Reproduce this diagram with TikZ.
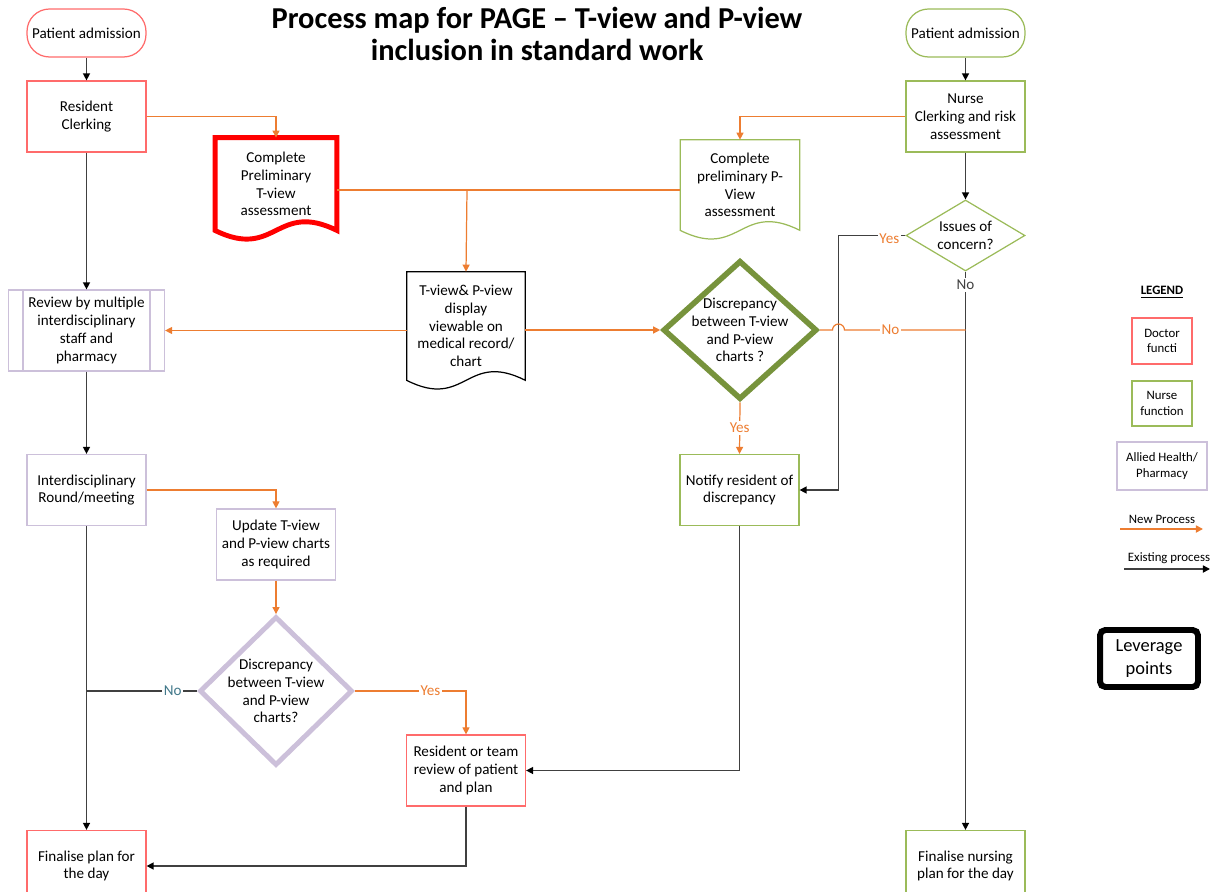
\documentclass[tikz,border=0pt]{standalone}
\usepackage{fontspec}
\setmainfont{Carlito}
\usepackage{xcolor}
\definecolor{doctorColor}{HTML}{FF6B6B}
\definecolor{leverRed}{HTML}{FF0000}
\definecolor{nurseColor}{HTML}{9BBB59}
\definecolor{nurseDark}{HTML}{77933C}
\definecolor{alliedColor}{HTML}{CCC0DA}
\definecolor{newColor}{HTML}{ED7D31}
\definecolor{oldColor}{HTML}{404040}
\definecolor{noColor}{HTML}{41788A}
\usepackage{tikz}
\usetikzlibrary{shapes.geometric, arrows.meta, positioning, calc}

% wavy paper outline round a node
\newcommand{\paperline}[2]{%
  \draw[#2] (#1.south west) -- (#1.north west) -- (#1.north east) -- (#1.south east)
    .. controls ($(#1.south)+(0,0.6cm)$) and ($(#1.south)+(0,-0.6cm)$) .. (#1.south west) -- cycle;}

\tikzset{
  box/.style={draw, line width=0.7pt, fill=white, align=center, minimum width=2.38cm, minimum height=1.42cm, inner sep=2pt},
  doctor/.style={box, draw=doctorColor},
  nurse/.style={box, draw=nurseColor},
  allied/.style={box, draw=alliedColor},
  startbox/.style={rounded corners=0.45cm, minimum height=0.96cm},
  paper/.style={align=center, minimum width=2.38cm, minimum height=1.78cm, inner sep=2pt},
  decision/.style={diamond, draw, inner sep=0pt},
  tip/.style={-{Triangle[length=4pt, width=4pt, color=#1]}},
  newflow/.style={newColor, line width=0.7pt, tip=newColor},
  oldflow/.style={oldColor, line width=0.8pt, tip=black},
  answer/.style={fill=white, inner sep=1pt},
  legendtext/.style={font=\fontsize{7.3}{9}\selectfont}
}

\begin{document}
\begin{tikzpicture}[x=0.02cm, y=-0.02cm, font=\fontsize{8.6}{10.1}\selectfont]
    \useasboundingbox (0,0) rectangle (1217,892);

    % Title
    \node[font=\fontsize{17.3}{18.4}\selectfont\bfseries, align=center] (title) at (537,34)
        {Process map for PAGE – T-view and P-view\\inclusion in standard work};

    % Doctor column
    \node[doctor, startbox] (admitDoc) at (86.5,33) {Patient admission};
    \node[doctor] (clerkRes) at (86.5,116.5) {Resident\\Clerking};
    \node[allied, minimum width=3.12cm, minimum height=1.62cm] (review) at (86.5,330.5)
        {Review by multiple\\interdisciplinary\\staff and\\pharmacy};
    \draw[alliedColor, line width=0.7pt] ($(review.north west)+(15,0)$) -- ($(review.south west)+(15,0)$);
    \draw[alliedColor, line width=0.7pt] ($(review.north east)+(-15,0)$) -- ($(review.south east)+(-15,0)$);
    \node[allied] (round) at (86.5,490) {Interdisciplinary\\Round/meeting};
    \node[doctor] (planDay) at (86.5,866) {Finalise plan for\\the day};

    % Charts
    \node[paper, minimum width=2.34cm, minimum height=1.76cm, outer sep=1.4pt] (tDoc) at (276,184)
        {Complete\\Preliminary\\T-view\\assessment};
    \paperline{tDoc}{leverRed, line width=2.8pt}
    \node[paper, minimum height=1.8cm] (pDoc) at (740,185)
        {Complete\\preliminary P-\\View\\assessment};
    \paperline{pDoc}{nurseColor, line width=0.7pt}
    \node[paper, minimum width=2.36cm, minimum height=2.16cm] (display) at (466,326)
        {T-view\& P-view\\display\\viewable on\\medical record/\\chart};
    \paperline{display}{black, line width=0.7pt}

    % Middle
    \node[allied] (update) at (276,544.5) {Update T-view\\and P-view charts\\as required};
    \node[decision, draw=alliedColor, line width=2.8pt, minimum width=3.06cm, minimum height=2.98cm,
        label={[align=center]center:Discrepancy\\between T-view\\and P-view\\charts?}] (chartCheck) at (276,691) {};
    \node[doctor] (teamReview) at (466,770.5) {Resident or team\\review of patient\\and plan};
    \node[decision, draw=nurseDark, line width=3.2pt, minimum width=3.08cm, minimum height=2.78cm,
        label={[align=center]center:Discrepancy\\between T-view\\and P-view\\charts ?}] (gapCheck) at (740,330) {};
    \node[nurse] (notify) at (739.5,490) {Notify resident of\\discrepancy};

    % Nurse column
    \node[nurse, startbox] (admitNurse) at (965.5,33) {Patient admission};
    \node[nurse] (clerkNurse) at (965.5,116.5) {Nurse\\Clerking and risk\\assessment};
    \node[decision, draw=nurseColor, line width=0.7pt, minimum width=2.38cm, minimum height=1.42cm,
        label={[align=center]center:Issues of\\concern?}] (issues) at (965.5,235.5) {};
    \node[nurse] (nursePlan) at (965.5,866) {Finalise nursing\\plan for the day};

    % Bends
    \coordinate (tpJoin) at (467,190);
    \coordinate (yesBend) at (838.5,235.5);
    \coordinate (hopStart) at (832.5,330);
    \coordinate (noJoin) at (965.5,330);

    % Existing process
    \draw[oldflow] (admitDoc) -- (clerkRes);
    \draw[oldflow] (clerkRes) -- (review);
    \draw[oldflow] (review) -- (round);
    \draw[oldflow] (round) -- (planDay);
    \draw[oldColor, line width=0.8pt] (chartCheck.west) -- node[answer, text=noColor, pos=0.22] {No} (round.south |- chartCheck.west);
    \draw[oldflow] (teamReview.south) |- (planDay.east);
    \draw[oldflow] (notify.south) |- (teamReview.east);
    \draw[oldflow] (admitNurse) -- (clerkNurse);
    \draw[oldflow] (clerkNurse) -- (issues);
    \draw[oldflow] (issues.south) -- node[answer, pos=0.024] {No} (nursePlan.north);
    \draw[oldflow] (issues.west) -- node[answer, text=newColor, pos=0.24, yshift=-2pt] {Yes} (yesBend) |- (notify.east);

    % New process
    \draw[newflow] (clerkRes.east) -| (tDoc.north);
    \draw[newflow] (clerkNurse.west) -| (pDoc.north);
    \draw[newColor, line width=0.7pt] (tDoc.east |- tpJoin) -- (pDoc.west |- tpJoin);
    \draw[newflow] (tpJoin) -- (display.north);
    \draw[newflow] (display.west |- review.east) -- (review.east);
    \draw[newflow] (display.east |- gapCheck.west) -- (gapCheck.west);
    \draw[newflow] (gapCheck.south) -- node[answer, text=newColor] {Yes} (notify.north);
    \draw[newColor, line width=0.7pt] (gapCheck.east) -- (hopStart)
        arc[start angle=180, end angle=0, radius=0.12cm] -- node[answer, text=newColor, pos=0.38] {No} (noJoin);
    \draw[newflow] (round.east) -| (update.north);
    \draw[newflow] (update.south) -- (chartCheck.north);
    \draw[newflow] (chartCheck.east) -| node[answer, text=newColor, pos=0.34] {Yes} (teamReview.north);

    % Legend
    \node[legendtext, font=\fontsize{7.3}{9}\selectfont\bfseries] (legendTitle) at (1162,292) {\underline{LEGEND}};
    \node[doctor, legendtext, minimum width=1.2cm, minimum height=0.92cm] (legDoctor) at (1162,341) {Doctor\\functi};
    \node[nurse, legendtext, minimum width=1.2cm, minimum height=0.9cm] (legNurse) at (1162,403.5) {Nurse\\function};
    \node[allied, legendtext, minimum width=1.8cm, minimum height=0.96cm] (legAllied) at (1162,466) {Allied Health/\\Pharmacy};
    \node[legendtext] (legNew) at (1162,519) {New Process};
    \coordinate (newFrom) at (1120,529);
    \coordinate (newTo) at (1203,529);
    \draw[newflow, line width=0.9pt] (newFrom) -- (newTo);
    \node[legendtext] (legOld) at (1169,558) {Existing process};
    \coordinate (oldFrom) at (1124,569);
    \coordinate (oldTo) at (1210,569);
    \draw[oldflow, line width=0.9pt] (oldFrom) -- (oldTo);
    \node[draw, line width=3.4pt, rounded corners=3pt, align=center, minimum width=1.96cm, minimum height=1.14cm,
        font=\fontsize{10.5}{13}\selectfont] (leverage) at (1149,658.5) {Leverage\\points};
\end{tikzpicture}
\end{document}
